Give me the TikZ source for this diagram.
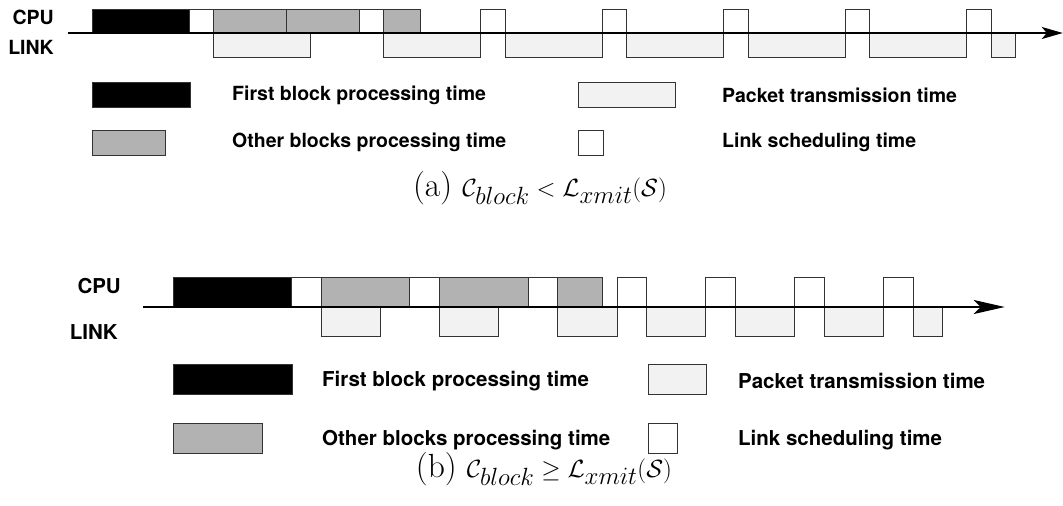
\documentclass[tikz,border=0pt]{standalone}
\usepackage{amsmath,amssymb}
\usepackage{fontspec}
\setsansfont{TeX Gyre Heros}
\usetikzlibrary{arrows.meta,positioning}

\tikzset{
  slot/.style={draw=black!80, line width=0.9pt},
  firstblk/.style={slot, fill=black},
  otherblk/.style={slot, fill=black!30},
  xmit/.style={slot, fill=black!5},
  sched/.style={slot, fill=white},
  timeaxis/.style={line width=1.8pt, -{Stealth[length=21pt,width=12pt,inset=5pt]}},
  rowlabel/.style={font=\sffamily\bfseries\fontsize{19.5}{22}\selectfont, anchor=east, inner sep=0pt},
  keytext/.style={font=\sffamily\bfseries\fontsize{19.5}{22}\selectfont, anchor=west, inner sep=0pt},
  bigtext/.style={font=\sffamily\bfseries\fontsize{20.5}{23}\selectfont},
  captext/.style={font=\fontsize{33.5}{38}\selectfont, inner sep=0pt}
}

\begin{document}
\begin{tikzpicture}[x=1pt,y=-1pt]
  \useasboundingbox (0,0) rectangle (1063,506);

  % ---- (a) C_block < L_xmit(S)
  \node[rowlabel] (a-cpu) at (54,17) {CPU};
  \node[rowlabel] (a-link) at (54,47) {LINK};
  \begin{scope}[shift={(92,33)}, x=24.3pt, y=1pt]
    % cpu row
    \draw[firstblk] (0,0) rectangle (4,24);
    \draw[sched] (4,0) rectangle (5,24);
    \draw[otherblk] (5,0) rectangle (8,24);
    \draw[otherblk] (8,0) rectangle (11,24);
    \draw[sched] (11,0) rectangle (12,24);
    \draw[otherblk] (12,0) rectangle (13.5,24);
    % link row
    \draw[xmit] (5,0) rectangle (9,-24);
    \draw[xmit] (12,0) rectangle (16,-24);
    \foreach \t in {16,21,26,31} {
      \draw[sched] (\t,0) rectangle (\t+1,24);
      \draw[xmit] (\t+1,0) rectangle (\t+5,-24);
    }
    \draw[sched] (36,0) rectangle (37,24);
    \draw[xmit] (37,0) rectangle (38,-24);
    \coordinate (a-t0) at (-1,0);
    \coordinate (a-t1) at (39.95,0);
    \draw[timeaxis] (a-t0) -- (a-t1);
  \end{scope}

  % legend (a)
  \draw[firstblk] (92,82) rectangle (190,107);
  \draw[otherblk] (92,130) rectangle (165,155);
  \draw[xmit] (578,82) rectangle (675,107);
  \draw[sched] (578,130) rectangle (603,155);
  \node[keytext] (a-k1) at (232,95) {First block processing time};
  \node[keytext] (a-k2) at (232,142) {Other blocks processing time};
  \node[keytext] (a-k3) at (722,95) {Packet transmission time};
  \node[keytext] (a-k4) at (722,142) {Link scheduling time};
  \node[captext] (a-cap) at (540,188)
    {(a) $\mathcal{C}_{block} < \mathcal{L}_{xmit}(\mathcal{S})$};

  % ---- (b) C_block >= L_xmit(S)
  \node[rowlabel, bigtext] (b-cpu) at (121,286) {CPU};
  \node[rowlabel, bigtext] (b-link) at (118,332) {LINK};
  \begin{scope}[shift={(173,307)}, x=29.6pt, y=1pt]
    % cpu row
    \draw[firstblk] (0,0) rectangle (4,30);
    \draw[sched] (4,0) rectangle (5,30);
    \draw[otherblk] (5,0) rectangle (8,30);
    \draw[sched] (8,0) rectangle (9,30);
    \draw[otherblk] (9,0) rectangle (12,30);
    \draw[sched] (12,0) rectangle (13,30);
    \draw[otherblk] (13,0) rectangle (14.5,30);
    % link row
    \draw[xmit] (5,0) rectangle (7,-29);
    \draw[xmit] (9,0) rectangle (11,-29);
    \draw[xmit] (13,0) rectangle (15,-29);
    \foreach \t in {15,18,21} {
      \draw[sched] (\t,0) rectangle (\t+1,30);
      \draw[xmit] (\t+1,0) rectangle (\t+3,-29);
    }
    \draw[sched] (24,0) rectangle (25,30);
    \draw[xmit] (25,0) rectangle (26,-29);
    \coordinate (b-t0) at (-1,0);
    \coordinate (b-t1) at (28.1,0);
    \draw[timeaxis, -{Stealth[length=31pt,width=14pt,inset=7pt]}] (b-t0) -- (b-t1);
  \end{scope}

  % legend (b)
  \draw[firstblk] (173,364) rectangle (292,394);
  \draw[otherblk] (173,423) rectangle (262,453);
  \draw[xmit] (648,364) rectangle (706,394);
  \draw[sched] (648,423) rectangle (677,453);
  \node[keytext, bigtext] (b-k1) at (322,381) {First block processing time};
  \node[keytext, bigtext] (b-k2) at (322,440) {Other blocks processing time};
  \node[keytext, bigtext] (b-k3) at (738,381) {Packet transmission time};
  \node[keytext, bigtext] (b-k4) at (738,440) {Link scheduling time};
  \node[captext] (b-cap) at (544,469)
    {(b) $\mathcal{C}_{block} \geq \mathcal{L}_{xmit}(\mathcal{S})$};
\end{tikzpicture}
\end{document}
